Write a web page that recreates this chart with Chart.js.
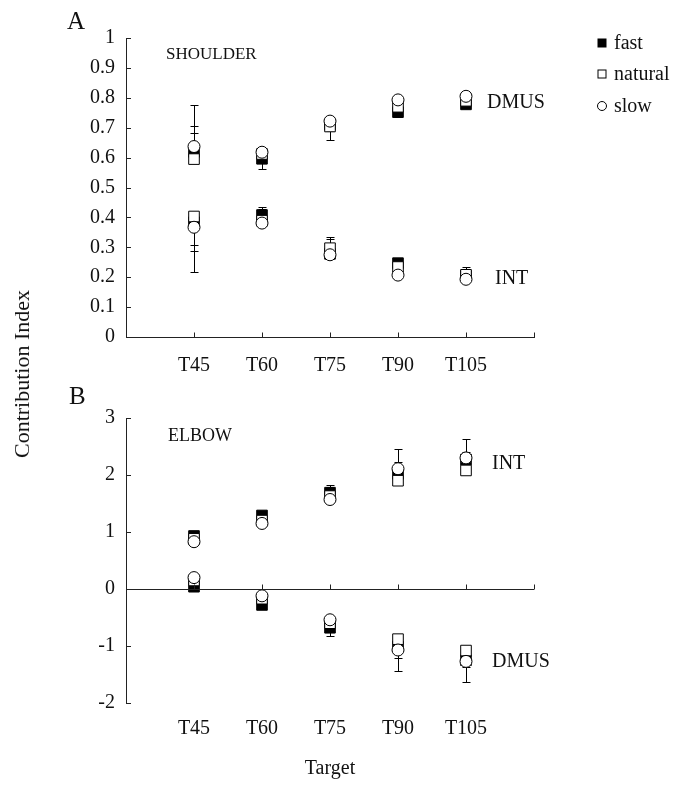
<!DOCTYPE html>
<html>
<head>
<meta charset="utf-8">
<script src="https://cdn.jsdelivr.net/npm/chart.js@4"></script>
<style>
  body { margin: 0; background: #fff; }
  #wrap { position: relative; width: 685px; height: 789px; font-family: "Liberation Serif", "Times New Roman", serif; color: #111; }
  #wrap canvas { position: absolute; left: 0; }
  .lbl { position: absolute; white-space: nowrap; transform: translateY(-50%); line-height: 1; }
</style>
</head>
<body>
<div id="wrap">
  <canvas id="shoulder" width="685" height="380" style="top:0"></canvas>
  <canvas id="elbow" width="685" height="409" style="top:380px"></canvas>

  <div class="lbl" style="left:67px;top:20px;font-size:25px">A</div>
  <div class="lbl" style="left:69px;top:395px;font-size:25px">B</div>
  <div class="lbl" style="left:166px;top:53px;font-size:17px">SHOULDER</div>
  <div class="lbl" style="left:168px;top:435px;font-size:18px">ELBOW</div>
  <div class="lbl" style="left:487px;top:101px;font-size:20px">DMUS</div>
  <div class="lbl" style="left:495px;top:277px;font-size:20px">INT</div>
  <div class="lbl" style="left:492px;top:462px;font-size:20px">INT</div>
  <div class="lbl" style="left:492px;top:660px;font-size:20px">DMUS</div>
  <div class="lbl" style="left:22px;top:374px;font-size:22px;transform:translate(-50%,-50%) rotate(-90deg)">Contribution Index</div>
</div>

<script>
// ********** data ************
const targets = ["T45", "T60", "T75", "T90", "T105"];
const speeds = ["fast", "natural", "slow"];

// shoulder (A)
const shoulderDmusFast = [0.619, 0.596, 0.71, 0.752, 0.778];
const shoulderDmusNatural = [0.595, 0.612, 0.704, 0.77, 0.79];
const shoulderDmusSlow = [0.637, 0.618, 0.722, 0.793, 0.805];
const shoulderIntFast = [0.384, 0.408, 0.278, 0.247, 0.205];
const shoulderIntNatural = [0.403, 0.389, 0.297, 0.234, 0.208];
const shoulderIntSlow = [0.367, 0.381, 0.275, 0.207, 0.193];
// error bars, signed: + drawn up, - drawn down
const shoulderDmusFastErr = [0.088, -0.034, -0.02, -0.015, -0.013];
const shoulderDmusNaturalErr = [0.087, -0.02, -0.045, -0.025, -0.01];
const shoulderDmusSlowErr = [0.139, -0.01, -0.01, -0.01, -0.01];
const shoulderIntFastErr = [-0.096, 0.028, 0.049, 0.015, 0.02];
const shoulderIntNaturalErr = [-0.095, 0.039, 0.039, 0.02, 0.027];
const shoulderIntSlowErr = [-0.148, 0.01, 0.01, 0.02, 0.015];

// elbow (B)
const elbowIntFast = [0.93, 1.29, 1.69, 2.02, 2.27];
const elbowIntNatural = [0.88, 1.2, 1.63, 1.9, 2.08];
const elbowIntSlow = [0.83, 1.15, 1.57, 2.11, 2.3];
const elbowDmusFast = [0.04, -0.28, -0.68, -1.01, -1.25];
const elbowDmusNatural = [0.15, -0.17, -0.6, -0.88, -1.08];
const elbowDmusSlow = [0.2, -0.12, -0.54, -1.07, -1.27];
const elbowIntFastErr = [0.086, 0.05, 0.14, 0.43, 0.37];
const elbowIntNaturalErr = [0.05, 0.05, 0.16, 0.1, 0.1];
const elbowIntSlowErr = [0.05, 0.05, 0.1, 0.12, 0.1];
const elbowDmusFastErr = [-0.03, -0.05, -0.14, -0.43, -0.38];
const elbowDmusNaturalErr = [-0.03, -0.05, -0.05, -0.1, -0.1];
const elbowDmusSlowErr = [-0.03, -0.05, -0.05, -0.14, -0.1];

const shoulderTicks = [0, 0.1, 0.2, 0.3, 0.4, 0.5, 0.6, 0.7, 0.8, 0.9, 1];
const elbowTicks = [-2, -1, 0, 1, 2, 3];

// ********** styles ************
const FONT = "'Liberation Serif', 'Times New Roman', serif";
const INK = "#111";
// order: slow drawn on top, fast at the bottom
const markerStyle = {
  fast: { order: 3, pointStyle: "rect", pointRadius: 7.5, pointBackgroundColor: "#000" },
  natural: { order: 2, pointStyle: "rect", pointRadius: 7.5, pointBackgroundColor: "#fff" },
  slow: { order: 1, pointStyle: "circle", pointRadius: 6, pointBackgroundColor: "#fff" },
};

function points(values) {
  return values.map((v, i) => ({ x: i + 1, y: v }));
}

function makeDataset(speed, a, b, errA, errB) {
  return {
    label: speed,
    data: points(a).concat(points(b)),
    errors: errA.concat(errB),
    showLine: false,
    borderColor: "#000",
    pointBorderColor: "#000",
    pointBorderWidth: 1,
    pointHoverRadius: 0,
    ...markerStyle[speed],
  };
}

// ********** plugins ************
const errorBars = {
  id: "errorBars",
  beforeDatasetsDraw(chart) {
    const ctx = chart.ctx;
    const xs = chart.scales.x;
    const ys = chart.scales.y;
    ctx.save();
    ctx.strokeStyle = "#000";
    ctx.lineWidth = 1;
    chart.data.datasets.forEach((ds) => {
      ds.data.forEach((p, i) => {
        const e = ds.errors[i];
        const x = Math.round(xs.getPixelForValue(p.x)) + 0.5;
        const y0 = ys.getPixelForValue(p.y);
        const y1 = Math.round(ys.getPixelForValue(p.y + e)) + 0.5;
        ctx.beginPath();
        ctx.moveTo(x, y0);
        ctx.lineTo(x, y1);
        ctx.moveTo(x - 4, y1);
        ctx.lineTo(x + 4, y1);
        ctx.stroke();
      });
    });
    ctx.restore();
  },
};

// axis ticks drawn on the inside, x axis line optionally at y = 0
const innerTicks = {
  id: "innerTicks",
  afterDraw(chart, args, opts) {
    const ctx = chart.ctx;
    const xs = chart.scales.x;
    const ys = chart.scales.y;
    const area = chart.chartArea;
    const axisY = Math.round(opts.zeroLine ? ys.getPixelForValue(0) : area.bottom) + 0.5;
    ctx.save();
    ctx.strokeStyle = "#222";
    ctx.lineWidth = 1;
    ctx.beginPath();
    if (opts.zeroLine) {
      ctx.moveTo(area.left, axisY);
      ctx.lineTo(area.right, axisY);
    }
    xs.ticks.forEach((t) => {
      const x = Math.round(xs.getPixelForValue(t.value)) + 0.5;
      ctx.moveTo(x, axisY);
      ctx.lineTo(x, axisY - 5);
    });
    ys.ticks.forEach((t) => {
      const y = Math.round(ys.getPixelForValue(t.value)) + 0.5;
      ctx.moveTo(area.left, y);
      ctx.lineTo(area.left + 5, y);
    });
    ctx.stroke();
    ctx.restore();
  },
};

const speedLegend = {
  id: "speedLegend",
  afterDraw(chart) {
    const ctx = chart.ctx;
    const rows = [43, 74, 106];
    ctx.save();
    ctx.font = "20px " + FONT;
    ctx.textBaseline = "middle";
    ctx.fillStyle = INK;
    ctx.strokeStyle = "#000";
    ctx.lineWidth = 1;
    speeds.forEach((s, i) => {
      const y = rows[i];
      const x = 602;
      if (s === "slow") {
        ctx.beginPath();
        ctx.arc(x, y, 4.5, 0, Math.PI * 2);
        ctx.stroke();
      } else if (s === "fast") {
        ctx.fillStyle = "#000";
        ctx.fillRect(x - 4.5, y - 4.5, 9, 9);
      } else {
        ctx.strokeRect(x - 4, y - 4, 8, 8);
      }
      ctx.fillStyle = INK;
      ctx.fillText(s, 614, y + 1);
    });
    ctx.restore();
  },
};

// ********** charts ************
function baseOptions(yMin, yMax, yStep, xHeight, labelPad, zeroLine) {
  return {
    responsive: false,
    animation: false,
    events: [],
    layout: { padding: { top: 38, right: 151, left: 0, bottom: 0 } },
    plugins: {
      legend: { display: false },
      tooltip: { enabled: false },
      innerTicks: { zeroLine: zeroLine },
    },
    scales: {
      x: {
        type: "linear",
        min: 0,
        max: 6,
        grid: { display: false, drawTicks: false },
        border: { display: !zeroLine, color: "#222", width: 1 },
        ticks: {
          stepSize: 1,
          autoSkip: false,
          maxRotation: 0,
          padding: labelPad,
          color: INK,
          font: { family: FONT, size: 20 },
          callback: (v) => targets[v - 1] || "",
        },
        afterFit: (s) => { s.height = xHeight; },
      },
      y: {
        min: yMin,
        max: yMax,
        grid: { display: false, drawTicks: false },
        border: { display: true, color: "#222", width: 1 },
        ticks: {
          stepSize: yStep,
          padding: 11,
          color: INK,
          font: { family: FONT, size: 20 },
          callback: (v) => String(Math.round(v * 10) / 10),
        },
        afterFit: (s) => { s.width = 126; },
      },
    },
  };
}

const shoulderOptions = baseOptions(shoulderTicks[0], shoulderTicks[shoulderTicks.length - 1], 0.1, 43, 17, false);
new Chart(document.getElementById("shoulder"), {
  type: "scatter",
  data: {
    datasets: [
      makeDataset("fast", shoulderDmusFast, shoulderIntFast, shoulderDmusFastErr, shoulderIntFastErr),
      makeDataset("natural", shoulderDmusNatural, shoulderIntNatural, shoulderDmusNaturalErr, shoulderIntNaturalErr),
      makeDataset("slow", shoulderDmusSlow, shoulderIntSlow, shoulderDmusSlowErr, shoulderIntSlowErr),
    ],
  },
  options: shoulderOptions,
  plugins: [errorBars, innerTicks, speedLegend],
});

const elbowOptions = baseOptions(elbowTicks[0], elbowTicks[elbowTicks.length - 1], 1, 86, 14, true);
elbowOptions.scales.x.title = {
  display: true,
  text: "Target",
  color: INK,
  font: { family: FONT, size: 20 },
  padding: { top: 0, bottom: 8 },
};
new Chart(document.getElementById("elbow"), {
  type: "scatter",
  data: {
    datasets: [
      makeDataset("fast", elbowIntFast, elbowDmusFast, elbowIntFastErr, elbowDmusFastErr),
      makeDataset("natural", elbowIntNatural, elbowDmusNatural, elbowIntNaturalErr, elbowDmusNaturalErr),
      makeDataset("slow", elbowIntSlow, elbowDmusSlow, elbowIntSlowErr, elbowDmusSlowErr),
    ],
  },
  options: elbowOptions,
  plugins: [errorBars, innerTicks],
});
</script>
</body>
</html>
